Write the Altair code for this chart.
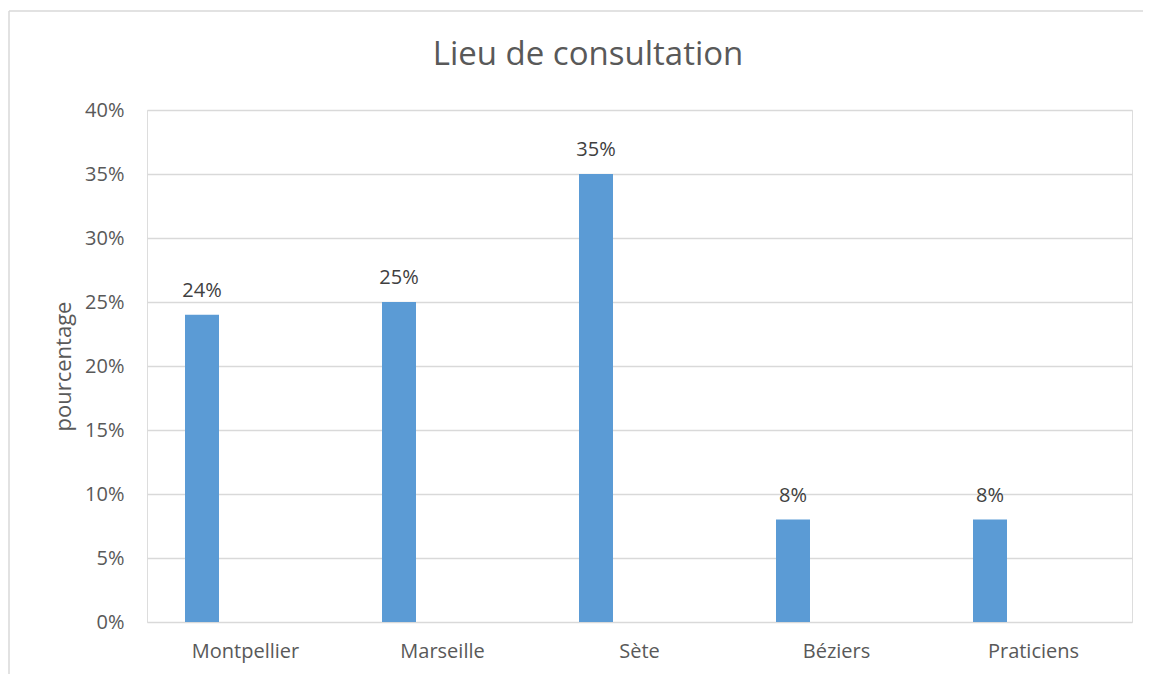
import altair as alt
import pandas as pd

categories = ["Montpellier", "Marseille", "Sète", "Béziers", "Praticiens"]
values = [0.24, 0.25, 0.35, 0.08, 0.08]
y_ticks = [0, 0.05, 0.10, 0.15, 0.20, 0.25, 0.30, 0.35, 0.40]
title_text = ["Lieu de consultation"]

df = pd.DataFrame({"lieu": categories, "pct": values})
df_title = pd.DataFrame({"t": title_text})

FONT = "Open Sans"
AXIS_COLOR = "#595959"
GRID = "#D9D9D9"
BAR = "#5B9BD5"

PLOT_W = 985
PLOT_H = 512

x_enc = alt.X("lieu:N", sort=categories,
              scale=alt.Scale(paddingInner=0, paddingOuter=0),
              axis=alt.Axis(title=None, labelAngle=0, domain=False, ticks=False, tickSize=0,
                            labelPadding=19, labelFontSize=20, labelColor=AXIS_COLOR,
                            labelFont=FONT, grid=False))
y_enc = alt.Y("pct:Q", scale=alt.Scale(domain=[0, 0.40], nice=False),
              axis=alt.Axis(values=y_ticks, format=".0%", title="pourcentage",
                            titleFontSize=22, titleFont=FONT, titleColor=AXIS_COLOR,
                            titleFontWeight="normal", titleAngle=270, titleBaseline="middle",
                            titleX=-84, titleY=PLOT_H / 2,
                            labelFontSize=20, labelFont=FONT, labelColor=AXIS_COLOR,
                            labelPadding=23, ticks=False, tickSize=0, domain=False,
                            grid=True, gridColor=GRID, gridWidth=1.3))

frame_top = alt.Chart(df_title).mark_rule(stroke=GRID, strokeWidth=1.5, clip=False).encode(
    x=alt.value(-138), x2=alt.value(PLOT_W + 60), y=alt.value(-99))
frame_left = alt.Chart(df_title).mark_rule(stroke=GRID, strokeWidth=1.5, clip=False).encode(
    x=alt.value(-138), y=alt.value(-99), y2=alt.value(PLOT_H + 80))

title = alt.Chart(df_title).mark_text(fontSize=33, font=FONT, color=AXIS_COLOR,
                                      baseline="middle", align="center").encode(
    x=alt.value(441), y=alt.value(-55), text="t:N")

bars = alt.Chart(df).mark_bar(width=34, xOffset=-43.5, color=BAR).encode(x=x_enc, y=y_enc)

labels = alt.Chart(df).mark_text(xOffset=-43.5, dy=-18, baseline="alphabetic",
                                 fontSize=20, font=FONT, color="#404040").encode(
    x=alt.X("lieu:N", sort=categories),
    y=alt.Y("pct:Q"),
    text=alt.Text("pct:Q", format=".0%"),
)

chart = alt.layer(frame_top, frame_left, title, bars, labels).properties(
    width=PLOT_W, height=PLOT_H,
    autosize=alt.AutoSizeParams(type="none"),
    padding={"left": 139, "top": 102, "right": 11, "bottom": 52},
).configure_view(stroke=None).configure(background="white")

chart.save("out.html", embed_options={"renderer": "svg", "actions": False})
